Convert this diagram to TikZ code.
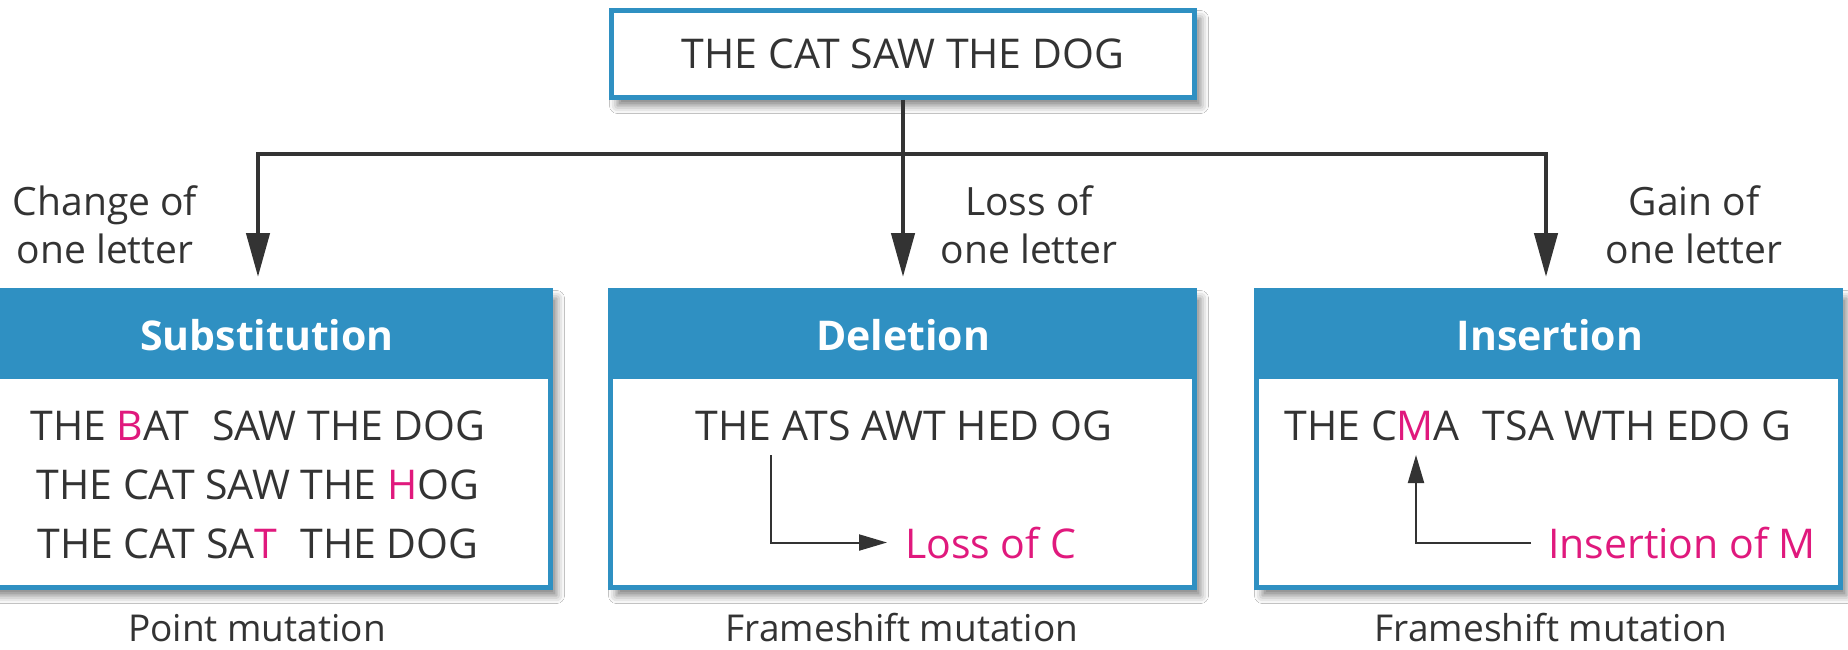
\documentclass[tikz,border=0pt]{standalone}
\usepackage{fontspec}
\setmainfont{Open Sans}
\usetikzlibrary{arrows.meta,shadows.blur}
\definecolor{hdrblue}{HTML}{2F90C2}
\definecolor{ink}{HTML}{333333}
\definecolor{mag}{HTML}{E0197D}
\begin{document}
\begin{tikzpicture}[x=1pt,y=-1pt,
  every node/.style={inner sep=0pt, text=ink},
  boxshadow/.style={blur shadow={shadow xshift=6pt, shadow yshift=-8pt,
      shadow blur radius=8pt, shadow opacity=50}},
  topbox/.style={draw=hdrblue, line width=5pt, fill=white, boxshadow,
      minimum width=583pt, minimum height=87pt,
      font=\fontsize{41}{49}\selectfont},
  mutbox/.style={draw=hdrblue, line width=5pt, fill=white, boxshadow,
      minimum width=584pt, minimum height=297pt},
  head/.style={text=white, font=\fontsize{41}{49}\selectfont\bfseries, anchor=base},
  seq/.style={font=\fontsize{41}{49}\selectfont, anchor=base},
  note/.style={font=\fontsize{39}{48}\selectfont, anchor=base},
  kind/.style={font=\fontsize{37}{44}\selectfont, anchor=base},
  mainarrow/.style={draw=ink, line width=4.5pt, shorten >=11pt,
      -{Triangle[length=44pt,width=23pt]}},
  thinarrow/.style={draw=ink, line width=2pt,
      -{Triangle[length=28pt,width=16pt]}}]

% canvas
\fill[white] (0,0) rectangle (1848,650);
\useasboundingbox (0,0) rectangle (1848,650);

% original sentence
\node[topbox] (top) at (903,54) {THE CAT SAW THE DOG};

% the three mutation panels
\node[mutbox, minimum width=573pt] (sub) at (264,439) {};
\node[mutbox] (del) at (902.5,439) {};
\node[mutbox] (ins) at (1548.5,439) {};
\foreach \b in {sub,del,ins}
  \fill[hdrblue] (\b.north west) rectangle ([yshift=-91pt]\b.north east);

\node[head] (subh) at (267,350) {Substitution};
\node[head] (delh) at (903,350) {Deletion};
\node[head] (insh) at (1550,350) {Insertion};

% branching connectors
\coordinate (hl) at (258,154);
\coordinate (hr) at (1546,154);
\draw[mainarrow] (hr) -- (hl) -- (hl |- sub.north);
\draw[mainarrow] (hl) -- (hr) -- (hr |- ins.north);
\draw[mainarrow] (top.south) -- (top.south |- del.north);

% branch labels
\node[note] (chg1) at (105,215) {Change of};
\node[note] (chg2) at (105,263) {one letter};
\node[note] (los1) at (1029,215) {Loss of};
\node[note] (los2) at (1029,263) {one letter};
\node[note] (gan1) at (1694,215) {Gain of};
\node[note] (gan2) at (1694,263) {one letter};

% substitution examples
\node[seq] (s1) at (258,440) {THE \textcolor{mag}{B}AT\hspace{0.3em} SAW THE DOG};
\node[seq] (s2) at (258,499) {THE CAT SAW THE \textcolor{mag}{H}OG};
\node[seq] (s3) at (258,558) {THE CAT SA\textcolor{mag}{T}\hspace{0.3em} THE DOG};

% deletion example
\node[seq] (dseq) at (904,440) {THE ATS AWT HED OG};
\node[seq, anchor=base west, text=mag] (dlab) at (905,558) {Loss of C};
\coordinate (dfrom) at (771,455);
\draw[thinarrow] (dfrom) |- ([xshift=-18pt]dlab.west);

% insertion example
\node[seq] (iseq) at (1538,440) {THE C\textcolor{mag}{M}A\hspace{0.3em} TSA WTH EDO G};
\node[seq, anchor=base west, text=mag] (ilab) at (1548,558) {Insertion of M};
\coordinate (ito) at (1416,455);
\draw[thinarrow] ([xshift=-17pt]ilab.west) -| (ito);

% mutation classes
\node[kind] (k1) at (257,641) {Point mutation};
\node[kind] (k2) at (902,641) {Frameshift mutation};
\node[kind] (k3) at (1551,641) {Frameshift mutation};
\end{tikzpicture}
\end{document}
